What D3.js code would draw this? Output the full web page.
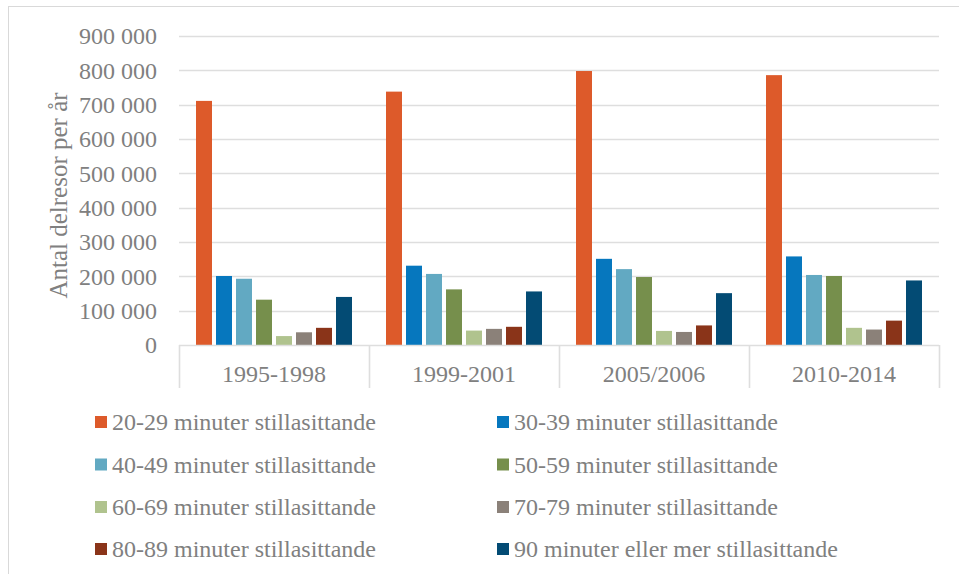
<!DOCTYPE html>
<html>
<head>
<meta charset="utf-8">
<script src="https://cdn.jsdelivr.net/npm/d3@7/dist/d3.min.js"></script>
<style>
  html, body { margin: 0; padding: 0; background: #ffffff; }
  svg { display: block; }
  text { font-family: "Liberation Serif", "Times New Roman", serif; fill: #808080; }
</style>
</head>
<body>
<svg id="chart" width="959" height="574"></svg>
<script>
// Periods on the category axis
const periods = ["1995-1998", "1999-2001", "2005/2006", "2010-2014"];

// Series (trip durations seated)
const seriesNames = [
  "20-29 minuter stillasittande",
  "30-39 minuter stillasittande",
  "40-49 minuter stillasittande",
  "50-59 minuter stillasittande",
  "60-69 minuter stillasittande",
  "70-79 minuter stillasittande",
  "80-89 minuter stillasittande",
  "90 minuter eller mer stillasittande"
];

const seriesColors = ["#DD5A2A", "#0677BE", "#62A9C2", "#768F4C", "#B0C38E", "#8B8179", "#8A3419", "#034B74"];

// Values per series, one per period
const s20 = [711000, 738000, 798000, 786000];
const s30 = [201000, 231000, 251000, 258000];
const s40 = [193000, 207000, 221000, 204000];
const s50 = [132000, 162000, 198000, 201000];
const s60 = [26000, 42000, 41000, 50000];
const s70 = [37000, 47000, 38000, 45000];
const s80 = [50000, 53000, 57000, 71000];
const s90 = [140000, 156000, 151000, 188000];
const seriesValues = [s20, s30, s40, s50, s60, s70, s80, s90];

const yTicks = [0, 100000, 200000, 300000, 400000, 500000, 600000, 700000, 800000, 900000];
const yTitle = "Antal delresor per år";

const svg = d3.select("#chart");
const gridColor = "#dedede";
const fontSize = 24;

// Outer chart frame
svg.append("rect")
  .attr("x", 8.5).attr("y", 6.5)
  .attr("width", 980).attr("height", 600)
  .attr("fill", "none").attr("stroke", "#d9d9d9").attr("stroke-width", 1);

const plot = { left: 179, right: 939, top: 36, bottom: 345 };

const x0 = d3.scaleBand().domain(periods).range([plot.left, plot.right]).paddingInner(0).paddingOuter(0);
const x1 = d3.scaleBand().domain(d3.range(seriesNames.length)).range([0, x0.bandwidth()])
  .paddingInner(0.2).paddingOuter(0.85);
const y = d3.scaleLinear().domain([0, 900000]).range([plot.bottom, plot.top]);

const fmt = v => d3.format(",")(v).replace(/,/g, " ");

// Gridlines
svg.append("g").selectAll("line")
  .data(yTicks.filter(t => t > 0))
  .join("line")
  .attr("x1", plot.left).attr("x2", plot.right)
  .attr("y1", d => Math.round(y(d)) + 0.5).attr("y2", d => Math.round(y(d)) + 0.5)
  .attr("stroke", gridColor).attr("stroke-width", 1.6);

// Y axis labels
const yAxis = d3.axisLeft(y).tickValues(yTicks).tickFormat(fmt).tickSize(0).tickPadding(22);
const yg = svg.append("g").attr("transform", `translate(${plot.left},0)`).call(yAxis);
yg.select(".domain").remove();
yg.selectAll("text")
  .attr("font-size", fontSize)
  .attr("font-family", "Liberation Serif, Times New Roman, serif")
  .attr("fill", "#808080");

// Y axis title
svg.append("text")
  .attr("transform", `translate(67,${(plot.top + plot.bottom) / 2 + 5}) rotate(-90)`)
  .attr("text-anchor", "middle")
  .attr("font-size", 25)
  .text(yTitle);

// Bars
const groups = svg.append("g").selectAll("g")
  .data(periods)
  .join("g")
  .attr("transform", d => `translate(${x0(d)},0)`);

groups.selectAll("rect")
  .data((p, pi) => seriesValues.map((vals, si) => ({ si, v: vals[pi] })))
  .join("rect")
  .attr("x", d => x1(d.si))
  .attr("width", x1.bandwidth())
  .attr("y", d => y(d.v))
  .attr("height", d => y(0) - y(d.v))
  .attr("fill", d => seriesColors[d.si]);

// Category axis: baseline and boxed separators
const axisG = svg.append("g");
axisG.append("line")
  .attr("x1", plot.left).attr("x2", plot.right)
  .attr("y1", plot.bottom + 0.5).attr("y2", plot.bottom + 0.5)
  .attr("stroke", gridColor).attr("stroke-width", 1.6);
const seps = periods.map(p => x0(p)).concat([plot.right]);
axisG.selectAll("line.sep")
  .data(seps)
  .join("line")
  .attr("class", "sep")
  .attr("x1", d => d + 0.5).attr("x2", d => d + 0.5)
  .attr("y1", plot.bottom).attr("y2", 388)
  .attr("stroke", gridColor).attr("stroke-width", 1.6);
axisG.selectAll("text")
  .data(periods)
  .join("text")
  .attr("x", d => x0(d) + x0.bandwidth() / 2)
  .attr("y", 382)
  .attr("text-anchor", "middle")
  .attr("font-size", fontSize)
  .text(d => d);

// Legend in two columns
const legendCols = [95, 497];
const legendRows = [422, 464.5, 507, 549];
const legend = svg.append("g").selectAll("g")
  .data(seriesNames)
  .join("g")
  .attr("transform", (d, i) => `translate(${legendCols[i % 2]},${legendRows[Math.floor(i / 2)]})`);
legend.append("rect")
  .attr("x", 0).attr("y", -6).attr("width", 12).attr("height", 12)
  .attr("fill", (d, i) => seriesColors[i]);
legend.append("text")
  .attr("x", 17).attr("y", 8)
  .attr("font-size", fontSize)
  .text(d => d);
</script>
</body>
</html>
